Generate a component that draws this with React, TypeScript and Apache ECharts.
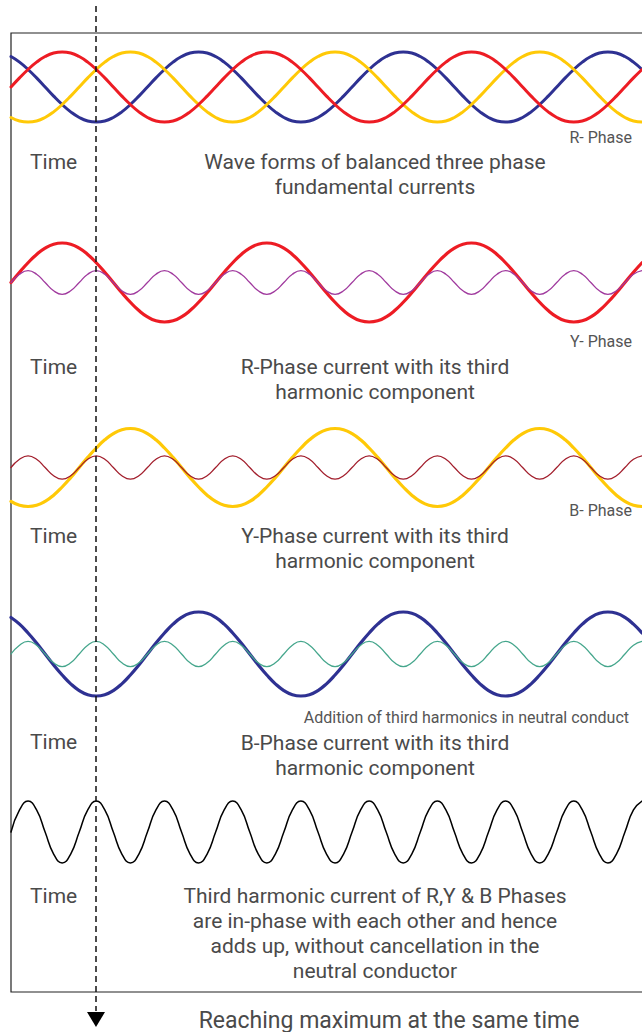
import React, { useEffect, useRef } from "react";
import * as echarts from "echarts";

// Time axis: electrical angle of the fundamental (degrees), sampled every 15°
const thetaDeg = [
  0, 15, 30, 45, 60, 75, 90, 105, 120, 135, 150, 165, 180, 195, 210, 225, 240, 255, 270, 285, 300, 315, 330, 345,
  360, 375, 390, 405, 420, 435, 450, 465, 480, 495, 510, 525, 540, 555, 570, 585, 600, 615, 630, 645, 660, 675, 690, 705,
  720, 735, 750, 765, 780, 795, 810, 825, 840, 855, 870, 885, 900, 915, 930, 945, 960, 975, 990, 1005, 1020, 1035, 1050, 1065,
  1080, 1095, 1110,
];

// R-phase fundamental current (per unit)
const rPhase = [
  0, 0.26, 0.5, 0.71, 0.87, 0.97, 1, 0.97, 0.87, 0.71, 0.5, 0.26, 0, -0.26, -0.5, -0.71, -0.87, -0.97, -1, -0.97, -0.87, -0.71, -0.5, -0.26,
  0, 0.26, 0.5, 0.71, 0.87, 0.97, 1, 0.97, 0.87, 0.71, 0.5, 0.26, 0, -0.26, -0.5, -0.71, -0.87, -0.97, -1, -0.97, -0.87, -0.71, -0.5, -0.26,
  0, 0.26, 0.5, 0.71, 0.87, 0.97, 1, 0.97, 0.87, 0.71, 0.5, 0.26, 0, -0.26, -0.5, -0.71, -0.87, -0.97, -1, -0.97, -0.87, -0.71, -0.5, -0.26,
  0, 0.26, 0.5,
];

// Y-phase fundamental current (per unit)
const yPhase = [
  -0.87, -0.97, -1, -0.97, -0.87, -0.71, -0.5, -0.26,
  0, 0.26, 0.5, 0.71, 0.87, 0.97, 1, 0.97, 0.87, 0.71, 0.5, 0.26, 0, -0.26, -0.5, -0.71, -0.87, -0.97, -1, -0.97, -0.87, -0.71, -0.5, -0.26,
  0, 0.26, 0.5, 0.71, 0.87, 0.97, 1, 0.97, 0.87, 0.71, 0.5, 0.26, 0, -0.26, -0.5, -0.71, -0.87, -0.97, -1, -0.97, -0.87, -0.71, -0.5, -0.26,
  0, 0.26, 0.5, 0.71, 0.87, 0.97, 1, 0.97, 0.87, 0.71, 0.5, 0.26, 0, -0.26, -0.5, -0.71, -0.87, -0.97, -1,
];

// B-phase fundamental current (per unit)
const bPhase = [
  0.87, 0.71, 0.5, 0.26, 0, -0.26, -0.5, -0.71, -0.87, -0.97, -1, -0.97, -0.87, -0.71, -0.5, -0.26,
  0, 0.26, 0.5, 0.71, 0.87, 0.97, 1, 0.97, 0.87, 0.71, 0.5, 0.26, 0, -0.26, -0.5, -0.71, -0.87, -0.97, -1, -0.97, -0.87, -0.71, -0.5, -0.26,
  0, 0.26, 0.5, 0.71, 0.87, 0.97, 1, 0.97, 0.87, 0.71, 0.5, 0.26, 0, -0.26, -0.5, -0.71, -0.87, -0.97, -1, -0.97, -0.87, -0.71, -0.5, -0.26,
  0, 0.26, 0.5, 0.71, 0.87, 0.97, 1, 0.97, 0.87, 0.71, 0.5,
];

// Third harmonic component of each phase (per unit of fundamental) – identical for R, Y and B
const thirdHarmonic = [
  0, 0.21, 0.3, 0.21, 0, -0.21, -0.3, -0.21, 0, 0.21, 0.3, 0.21, 0, -0.21, -0.3, -0.21,
  0, 0.21, 0.3, 0.21, 0, -0.21, -0.3, -0.21, 0, 0.21, 0.3, 0.21, 0, -0.21, -0.3, -0.21,
  0, 0.21, 0.3, 0.21, 0, -0.21, -0.3, -0.21, 0, 0.21, 0.3, 0.21, 0, -0.21, -0.3, -0.21,
  0, 0.21, 0.3, 0.21, 0, -0.21, -0.3, -0.21, 0, 0.21, 0.3, 0.21, 0, -0.21, -0.3, -0.21,
  0, 0.21, 0.3, 0.21, 0, -0.21, -0.3, -0.21, 0, 0.21, 0.3,
];

// Third harmonic current in the neutral conductor (sum of R, Y, B third harmonics)
const neutralHarmonic = [
  0, 0.64, 0.9, 0.64, 0, -0.64, -0.9, -0.64, 0, 0.64, 0.9, 0.64, 0, -0.64, -0.9, -0.64,
  0, 0.64, 0.9, 0.64, 0, -0.64, -0.9, -0.64, 0, 0.64, 0.9, 0.64, 0, -0.64, -0.9, -0.64,
  0, 0.64, 0.9, 0.64, 0, -0.64, -0.9, -0.64, 0, 0.64, 0.9, 0.64, 0, -0.64, -0.9, -0.64,
  0, 0.64, 0.9, 0.64, 0, -0.64, -0.9, -0.64, 0, 0.64, 0.9, 0.64, 0, -0.64, -0.9, -0.64,
  0, 0.64, 0.9, 0.64, 0, -0.64, -0.9, -0.64, 0, 0.64, 0.9,
];

const timeLabel = "Time";
const captions = [
  ["Wave forms of balanced three phase", "fundamental currents"],
  ["R-Phase current with its third", "harmonic component"],
  ["Y-Phase current with its third", "harmonic component"],
  ["B-Phase current with its third", "harmonic component"],
  [
    "Third harmonic current of R,Y & B Phases",
    "are in-phase with each other and hence",
    "adds up, without cancellation in the",
    "neutral conductor",
  ],
];
const sideLabels = ["R- Phase", "Y- Phase", "B- Phase", "Addition of third harmonics in neutral conduct"];
const bottomLabel = "Reaching maximum at the same time";

const RED = "#ED1C24";
const YELLOW = "#FFC907";
const BLUE = "#2E3192";
const PURPLE = "#A03A9E";
const MAROON = "#A21E2C";
const TEAL = "#45A68C";

const FONT = "Roboto, 'Noto Sans', sans-serif";

function pairs(vals: number[]) {
  return thetaDeg.map((t, i) => [t, vals[i]]);
}

export default function App() {
  const ref = useRef<HTMLDivElement>(null);

  useEffect(() => {
    const chart = echarts.init(ref.current!, null, { renderer: "svg" });

    // panel layout: center y and pixels per unit
    const panels = [
      { c: 87, a: 35 },
      { c: 282.5, a: 39.5 },
      { c: 467.5, a: 39 },
      { c: 654, a: 42 },
      { c: 832, a: 34.4 },
    ];
    const grids = panels.map((p) => ({
      left: 11,
      width: 631,
      top: p.c - 2 * p.a,
      height: 4 * p.a,
      containLabel: false,
    }));
    const xAxes = panels.map((_, i) => ({
      type: "value",
      gridIndex: i,
      min: 0,
      max: 1110,
      show: false,
    }));
    const yAxes = panels.map((_, i) => ({
      type: "value",
      gridIndex: i,
      min: -2,
      max: 2,
      show: false,
    }));

    const line = (idx: number, vals: number[], color: string, width: number, name: string) => ({
      type: "line",
      name,
      xAxisIndex: idx,
      yAxisIndex: idx,
      data: pairs(vals),
      smooth: 0.5,
      showSymbol: false,
      symbol: "none",
      lineStyle: { color, width, cap: "round", join: "round" },
      silent: true,
      clip: false,
    });

    const series = [
      line(0, bPhase, BLUE, 3, "B"),
      line(0, yPhase, YELLOW, 3, "Y"),
      line(0, rPhase, RED, 3, "R"),
      line(1, rPhase, RED, 3.2, "R fundamental"),
      line(1, thirdHarmonic, PURPLE, 1.3, "R 3rd"),
      line(2, yPhase, YELLOW, 3.2, "Y fundamental"),
      line(2, thirdHarmonic, MAROON, 1.3, "Y 3rd"),
      line(3, bPhase, BLUE, 3.2, "B fundamental"),
      line(3, thirdHarmonic, TEAL, 1.3, "B 3rd"),
      line(4, neutralHarmonic, "#000000", 1.5, "Neutral 3rd"),
    ];

    const timeY = [162, 367, 536, 742, 896];
    const captionY = [162, 367, 536, 743, 896];
    const sideY = [137, 341, 510, 717];

    const graphic: any[] = [];
    graphic.push({
      type: "rect",
      shape: { x: 11, y: 33, width: 660, height: 959 },
      style: { fill: "none", stroke: "#222", lineWidth: 1.2 },
      z: 1,
      silent: true,
    });
    timeY.forEach((y) =>
      graphic.push({
        type: "text",
        x: 30,
        y,
        style: { text: timeLabel, font: `21px ${FONT}`, fill: "#4a4a4a", verticalAlign: "middle", align: "left" },
      })
    );
    captions.forEach((lines, i) =>
      lines.forEach((t, j) =>
        graphic.push({
          type: "text",
          x: 375,
          y: captionY[i] + j * 25,
          style: { text: t, font: `21px ${FONT}`, fill: "#4a4a4a", verticalAlign: "middle", align: "center" },
        })
      )
    );
    sideLabels.forEach((t, i) =>
      graphic.push({
        type: "text",
        x: i === 3 ? 629 : 632,
        y: sideY[i],
        style: { text: t, font: `16px ${FONT}`, fill: "#555", verticalAlign: "middle", align: "right" },
      })
    );
    graphic.push({
      type: "text",
      x: 389,
      y: 1020,
      style: { text: bottomLabel, font: `23px ${FONT}`, fill: "#4a4a4a", verticalAlign: "middle", align: "center" },
    });
    graphic.push({
      type: "line",
      shape: { x1: 96, y1: 6, x2: 96, y2: 1011 },
      style: { stroke: "#111", lineWidth: 1.5, lineDash: [6, 4] },
      z: 100,
      silent: true,
    });
    graphic.push({
      type: "polygon",
      shape: { points: [[87, 1012], [105, 1012], [96, 1027]] },
      style: { fill: "#000" },
      z: 100,
      silent: true,
    });

    chart.setOption({
      animation: false,
      backgroundColor: "#ffffff",
      grid: grids,
      xAxis: xAxes,
      yAxis: yAxes,
      series,
      graphic,
    } as any);

    return () => chart.dispose();
  }, []);

  return (
    <div
      ref={ref}
      style={{ position: "absolute", left: 0, top: 0, width: 642, height: 1032, background: "#fff" }}
    />
  );
}
